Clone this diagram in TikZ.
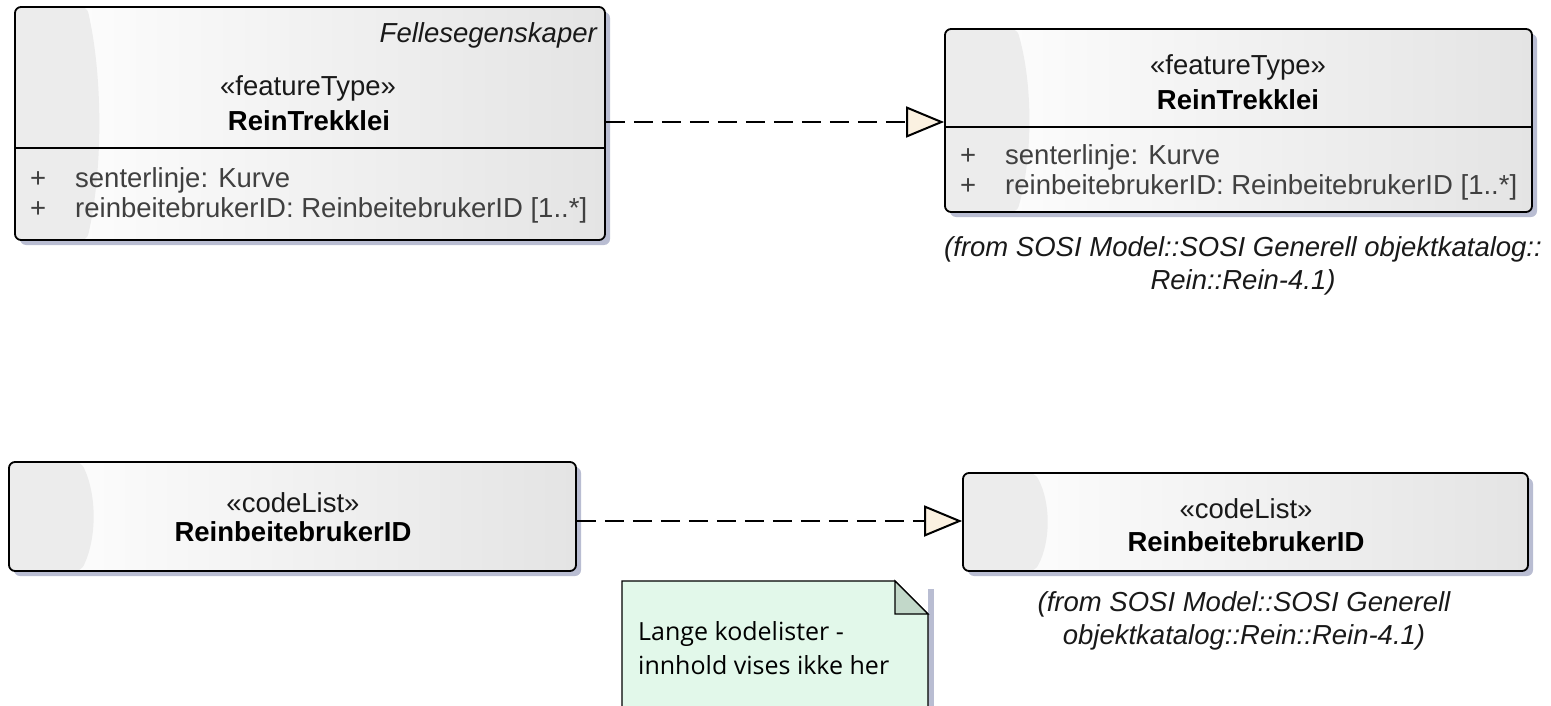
\documentclass[tikz,border=0pt]{standalone}
\usepackage{fontspec}
\setmainfont{Liberation Sans}
\newfontfamily\notefont{Open Sans}
\usetikzlibrary{arrows.meta,calc,shadows}
\definecolor{shadowc}{HTML}{B9BDD2}
\definecolor{notefill}{HTML}{E2F8EA}
\definecolor{notefold}{HTML}{C2D8C9}
\definecolor{tipfill}{HTML}{FBF1E1}
\definecolor{attrc}{HTML}{404040}
\definecolor{boxgray}{HTML}{E4E4E4}
\definecolor{stripgray}{HTML}{ECECEC}
\tikzset{
  umlbox/.style={draw=black, line width=1.8pt, rounded corners=6pt, inner sep=0pt,
    drop shadow={shadow xshift=5pt, shadow yshift=-5pt, fill=shadowc, opacity=1},
    path picture={
      \coordinate (pnw) at (path picture bounding box.north west);
      \coordinate (pse) at (path picture bounding box.south east);
      \shade[left color=white, right color=boxgray] (pnw) rectangle (pse);
      \fill[stripgray] let \p1=(pnw), \p2=(pse) in
        (\x1,\y1) -- (\x1+72pt,\y1) .. controls (\x1+88pt,{\y1+0.3*(\y2-\y1)}) and (\x1+88pt,{\y1+0.7*(\y2-\y1)}) .. (\x1+72pt,\y2) -- (\x1,\y2) -- cycle;
    }},
  divider/.style={line width=1.8pt},
  stereo/.style={font=\fontsize{27.5}{30}\selectfont, text=black!90},
  cname/.style={font=\fontsize{27.5}{30}\selectfont\bfseries, text=black},
  attr/.style={font=\fontsize{27.5}{30}\selectfont, text=attrc, anchor=west, inner sep=0pt},
  caption/.style={font=\fontsize{27.5}{33}\selectfont\itshape, align=center, text=black!90},
  dep/.style={line width=2pt, dash pattern=on 19pt off 9pt,
    -{Triangle[length=38pt, width=31pt, fill=tipfill]}},
}
\begin{document}
\begin{tikzpicture}[x=1pt, y=-1pt]
\useasboundingbox (0,0) rectangle (1551,706);

% top-left class
\node[umlbox, minimum width=590pt, minimum height=233pt] (b1) at (310,123.5) {};
\draw[divider] (b1.west |- 0,148) coordinate (d1l) -- (b1.east |- 0,148) coordinate (d1r);
\node[font=\fontsize{27.5}{30}\selectfont\itshape, anchor=east, inner sep=0pt, text=black!90] (p1) at (597,35) {Fellesegenskaper};
\node[stereo] (s1) at (308,88) {«featureType»};
\node[cname] (n1) at (309,121) {ReinTrekklei};
\node[attr] (v1a) at (30,180) {+};
\node[attr] (a1a) at (75,180) {senterlinje: Kurve};
\node[attr] (v1b) at (30,210) {+};
\node[attr] (a1b) at (75,210) {reinbeitebrukerID: ReinbeitebrukerID [1..*]};

% top-right class
\node[umlbox, minimum width=587pt, minimum height=183pt] (b2) at (1238.5,120.5) {};
\draw[divider] (b2.west |- 0,127) coordinate (d2l) -- (b2.east |- 0,127) coordinate (d2r);
\node[stereo] (s2) at (1238,67) {«featureType»};
\node[cname] (n2) at (1238,100) {ReinTrekklei};
\node[attr] (v2a) at (960,157) {+};
\node[attr] (a2a) at (1005,157) {senterlinje: Kurve};
\node[attr] (v2b) at (960,187) {+};
\node[attr] (a2b) at (1005,187) {reinbeitebrukerID: ReinbeitebrukerID [1..*]};
\node[caption] (c2) at (1243,266) {(from SOSI Model::SOSI Generell objektkatalog::\\Rein::Rein-4.1)};

% bottom-left codelist
\node[umlbox, minimum width=567pt, minimum height=109pt] (b3) at (292.5,516.5) {};
\node[stereo] (s3) at (293,503) {«codeList»};
\node[cname] (n3) at (293,532) {ReinbeitebrukerID};

% bottom-right codelist
\node[umlbox, minimum width=565pt, minimum height=98pt] (b4) at (1245.5,522) {};
\node[stereo] (s4) at (1246,509) {«codeList»};
\node[cname] (n4) at (1246,542) {ReinbeitebrukerID};
\node[caption] (c4) at (1244,621) {(from SOSI Model::SOSI Generell\\objektkatalog::Rein::Rein-4.1)};

% note
\fill[shadowc] (928,589) -- (934,589) -- (934,712) -- (928,712) -- cycle;
\filldraw[fill=notefill, draw=black, line width=1.4pt] (622,712) -- (622,581) -- (895,581) -- (928,614) -- (928,712);
\filldraw[fill=notefold, draw=black, line width=1.4pt] (895,581) -- (895,614) -- (928,614) -- cycle;
\node[font=\notefont\fontsize{25}{34}\selectfont, align=left, anchor=north west, inner sep=0pt] (nt) at (638,621) {Lange kodelister -\\innhold vises ikke her};

% dependencies / realizations
\draw[dep] (b1.east |- 0,122) -- (b2.west |- 0,122);
\draw[dep] (b3.east |- 0,521) -- (b4.west |- 0,521);
\end{tikzpicture}
\end{document}
